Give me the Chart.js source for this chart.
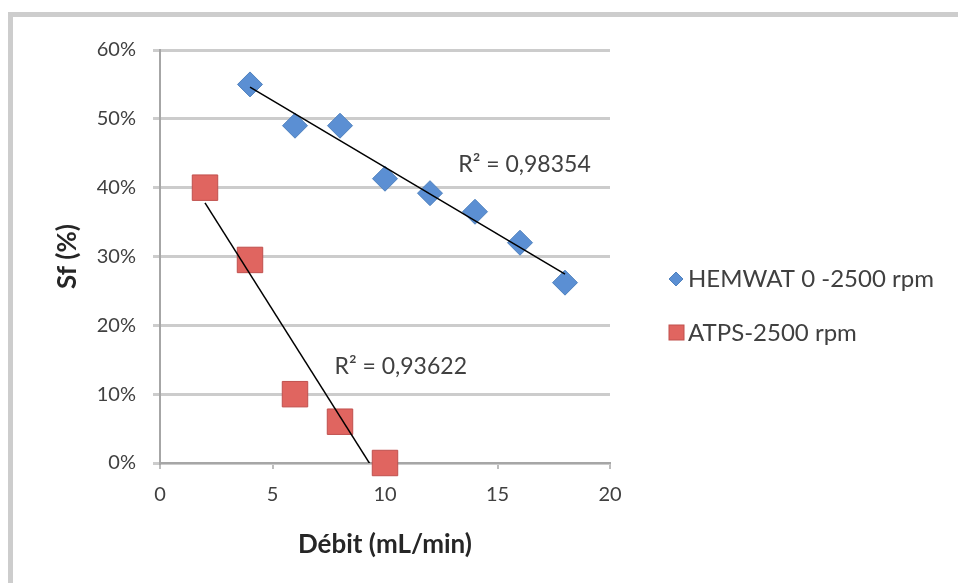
<!DOCTYPE html>
<html>
<head>
<meta charset="utf-8">
<title>Sf vs Débit</title>
<script src="https://cdn.jsdelivr.net/npm/chart.js@4.4.0/dist/chart.umd.min.js"></script>
<style>
    html, body { margin: 0; padding: 0; background: #ffffff; overflow: hidden; }
    canvas { display: block; }
</style>
</head>
<body>
<canvas id="sfChart" width="958" height="583"></canvas>
<script>
// Series data (Sf in %)
const hemwatX = [4, 6, 8, 10, 12, 14, 16, 18];
const hemwatY = [55, 49, 49, 41.3, 39.2, 36.5, 32, 26.2];
const atpsX = [2, 4, 6, 8, 10];
const atpsY = [40, 29.5, 10, 6, 0];

const seriesNames = ['HEMWAT 0 -2500 rpm', 'ATPS-2500 rpm'];
const r2Labels = ['R² = 0,98354', 'R² = 0,93622'];
// where the R² labels sit, in data units (x, y%)
const r2Anchors = [[16.2, 43.3], [10.7, 14]];

const xTicks = [0, 5, 10, 15, 20];
const yTicks = [0, 10, 20, 30, 40, 50, 60];

const FONT = "Lato, 'Open Sans', sans-serif";

// Least squares line, returned as two end points over the data range
function trendLine(xs, ys) {
    const n = xs.length;
    const mx = xs.reduce((a, b) => a + b, 0) / n;
    const my = ys.reduce((a, b) => a + b, 0) / n;
    let sxy = 0, sxx = 0;
    for (let i = 0; i < n; i++) {
        sxy += (xs[i] - mx) * (ys[i] - my);
        sxx += (xs[i] - mx) * (xs[i] - mx);
    }
    const slope = sxy / sxx;
    const icpt = my - slope * mx;
    const x0 = Math.min(...xs), x1 = Math.max(...xs);
    return [{ x: x0, y: icpt + slope * x0 }, { x: x1, y: icpt + slope * x1 }];
}

function toPoints(xs, ys) {
    return xs.map((x, i) => ({ x: x, y: ys[i] }));
}

// Gray frame on the top and left edge (the picture is a crop of a bordered chart)
const framePlugin = {
    id: 'frame',
    beforeDraw(chart) {
        const ctx = chart.ctx;
        ctx.save();
        ctx.fillStyle = '#cdcdcd';
        ctx.fillRect(8, 12, chart.width - 8, 5);
        ctx.fillRect(8, 12, 5, chart.height - 12);
        ctx.restore();
    }
};

// Draws the R² texts and the legend on the right
const extrasPlugin = {
    id: 'extras',
    afterDatasetsDraw(chart) {
        const ctx = chart.ctx;
        const xs = chart.scales.x, ys = chart.scales.y;
        ctx.save();
        ctx.font = "23px " + FONT;
        ctx.fillStyle = '#404040';
        ctx.textAlign = 'center';
        ctx.textBaseline = 'middle';
        r2Anchors.forEach((a, i) => {
            ctx.fillText(r2Labels[i], xs.getPixelForValue(a[0]), ys.getPixelForValue(a[1]));
        });

        // legend
        const lx = 676, ly = [279, 333];
        ctx.textAlign = 'left';
        ctx.font = "24px " + FONT;
        // diamond
        ctx.beginPath();
        ctx.moveTo(lx, ly[0] - 7);
        ctx.lineTo(lx + 7, ly[0]);
        ctx.lineTo(lx, ly[0] + 7);
        ctx.lineTo(lx - 7, ly[0]);
        ctx.closePath();
        ctx.fillStyle = '#5b8fd3';
        ctx.fill();
        ctx.strokeStyle = '#4f81bd';
        ctx.lineWidth = 1;
        ctx.stroke();
        // square
        ctx.fillStyle = '#e06560';
        ctx.fillRect(lx - 7, ly[1] - 8, 15, 15);
        ctx.strokeStyle = '#c0504d';
        ctx.strokeRect(lx - 7, ly[1] - 8, 15, 15);

        ctx.fillStyle = '#404040';
        ctx.fillText(seriesNames[0], 688, ly[0]);
        ctx.fillText(seriesNames[1], 688, ly[1]);
        ctx.restore();
    }
};

const ctx = document.getElementById('sfChart').getContext('2d');
new Chart(ctx, {
    type: 'scatter',
    data: {
        datasets: [
            {
                label: 'trend1',
                data: trendLine(hemwatX, hemwatY),
                showLine: true,
                borderColor: '#000000',
                borderWidth: 1.5,
                pointRadius: 0,
                order: 0
            },
            {
                label: 'trend2',
                data: trendLine(atpsX, atpsY),
                showLine: true,
                borderColor: '#000000',
                borderWidth: 1.5,
                pointRadius: 0,
                order: 0
            },
            {
                label: seriesNames[0],
                data: toPoints(hemwatX, hemwatY),
                pointStyle: 'rectRot',
                pointRadius: 12.5,
                backgroundColor: '#5b8fd3',
                borderColor: '#4f81bd',
                borderWidth: 1,
                clip: false,
                order: 1
            },
            {
                label: seriesNames[1],
                data: toPoints(atpsX, atpsY),
                pointStyle: 'rect',
                pointRadius: 18,
                backgroundColor: '#e06560',
                borderColor: '#c0504d',
                borderWidth: 1,
                clip: false,
                order: 1
            }
        ]
    },
    options: {
        responsive: false,
        animation: false,
        layout: { padding: { left: 10, top: 50, right: 348, bottom: 10 } },
        plugins: {
            legend: { display: false },
            tooltip: { enabled: false }
        },
        scales: {
            x: {
                type: 'linear',
                min: 0,
                max: 20,
                afterFit: (scale) => { scale.height = 110; },
                afterBuildTicks: (scale) => { scale.ticks = xTicks.map(v => ({ value: v })); },
                grid: { drawOnChartArea: false, drawTicks: true, tickLength: 6, color: '#bdbdbd', lineWidth: 2 },
                border: { color: '#a6a6a6', width: 2 },
                ticks: { color: '#404040', font: { size: 20, family: FONT }, padding: 14 },
                title: {
                    display: true,
                    text: 'Débit (mL/min)',
                    color: '#262626',
                    font: { size: 26, weight: 'bold', family: FONT },
                    padding: { top: 0, bottom: 13 }
                }
            },
            y: {
                min: 0,
                max: 60,
                afterFit: (scale) => { scale.width = 150; },
                afterBuildTicks: (scale) => { scale.ticks = yTicks.map(v => ({ value: v })); },
                grid: { color: '#cccccc', lineWidth: 3, tickLength: 7 },
                border: { color: '#a6a6a6', width: 2 },
                ticks: {
                    color: '#404040',
                    font: { size: 20, family: FONT },
                    padding: 17,
                    callback: (v) => v + '%'
                },
                title: {
                    display: true,
                    text: 'Sf (%)',
                    color: '#262626',
                    font: { size: 26, weight: 'bold', family: FONT },
                    padding: { top: 42, bottom: 0 }
                }
            }
        }
    },
    plugins: [framePlugin, extrasPlugin]
});
</script>
</body>
</html>
